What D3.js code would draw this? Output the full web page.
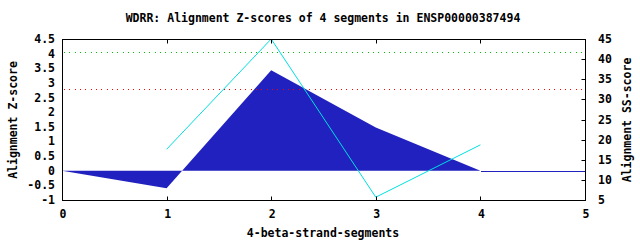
<!DOCTYPE html>
<html><head><meta charset="utf-8">
<script src="https://cdn.jsdelivr.net/npm/d3@7"></script>
<style>
body{margin:0;background:#fff;}
svg{display:block;}
text{font-family:"DejaVu Sans Mono",monospace;font-weight:bold;font-size:11.5px;fill:#000;}
</style></head><body>
<script>
const titleText = "WDRR: Alignment Z-scores of 4 segments in ENSP00000387494";
const xLabel = "4-beta-strand-segments";
const yLabelLeft = "Alignment Z-score";
const yLabelRight = "Alignment SS-score";
const segX = [0, 1, 2, 3, 4];
const zScores = [0, -0.6, 3.43, 1.48, 0];
const ssX = [1, 2, 3, 4];
const ssScores = [17.6, 45, 5.7, 18.7];
const xTicks = [0, 1, 2, 3, 4, 5];
const zTicks = [-1, -0.5, 0, 0.5, 1, 1.5, 2, 2.5, 3, 3.5, 4, 4.5];
const ssTicks = [5, 10, 15, 20, 25, 30, 35, 40, 45];
const greenThreshold = 4.04;  // Z
const redThreshold = 2.78;    // Z

const W = 640, H = 240;
const L = 62, R = 585, T = 39, B = 200;
const svg = d3.select("body").append("svg").attr("width", W).attr("height", H);
const x = d3.scaleLinear().domain([0, 5]).range([L, R]);
const yL = d3.scaleLinear().domain([-1, 4.5]).range([B, T]);
const yR = d3.scaleLinear().domain([5, 45]).range([B, T]);
const px = v => Math.round(v) + 0.5;

// area
const area = d3.area().x((d, i) => x(segX[i])).y0(yL(0)).y1(d => yL(d));
svg.append("path").datum(zScores).attr("d", area).attr("fill", "#2121bf").attr("stroke", "none");
// zero line beyond the last segment
svg.append("line").attr("x1", x(4) + 1).attr("x2", x(5)).attr("y1", px(yL(0))).attr("y2", px(yL(0)))
  .attr("stroke", "#2121bf").attr("stroke-width", 1).attr("shape-rendering", "crispEdges");

// threshold dotted lines
[[greenThreshold, "#00c000"], [redThreshold, "#ff0000"]].forEach(([v, c]) => {
  svg.append("line").attr("x1", L + 2).attr("x2", R).attr("y1", px(yL(v))).attr("y2", px(yL(v)))
    .attr("stroke", c).attr("stroke-width", 1).attr("stroke-dasharray", "1 4.33")
    .attr("shape-rendering", "crispEdges");
});

// SS line
const line = d3.line().x((d, i) => x(ssX[i])).y(d => yR(d));
svg.append("path").datum(ssScores).attr("d", line).attr("fill", "none")
  .attr("stroke", "#00e0e0").attr("stroke-width", 1);

// border
svg.append("rect").attr("x", L + 0.5).attr("y", T + 0.5).attr("width", R - L).attr("height", B - T)
  .attr("fill", "none").attr("stroke", "#000").attr("stroke-width", 1);

const g = svg.append("g");
xTicks.forEach(t => {
  const xx = px(x(t));
  g.append("line").attr("x1", xx).attr("x2", xx).attr("y1", B + 0.5).attr("y2", B - 3.5).attr("stroke", "#000");
  g.append("line").attr("x1", xx).attr("x2", xx).attr("y1", T + 0.5).attr("y2", T + 4.5).attr("stroke", "#000");
  g.append("text").attr("x", x(t) + 1).attr("y", 218).attr("text-anchor", "middle").text(d3.format("d")(t));
});
zTicks.forEach(t => {
  g.append("text").attr("x", 55).attr("y", yL(t)).attr("dy", "0.35em").attr("text-anchor", "end")
    .text(d3.format("")(t).replace("−", "-"));
});
ssTicks.forEach(t => {
  const yy = px(yR(t));
  g.append("line").attr("x1", R + 0.5).attr("x2", R - 3.5).attr("y1", yy).attr("y2", yy).attr("stroke", "#000");
  g.append("text").attr("x", 598).attr("y", yR(t)).attr("dy", "0.35em").attr("text-anchor", "start").text(t);
});

svg.append("text").attr("x", 323).attr("y", 22).attr("text-anchor", "middle").text(titleText);
svg.append("text").attr("x", 323).attr("y", 237).attr("text-anchor", "middle").text(xLabel);
svg.append("text").attr("transform", "translate(17,120) rotate(-90)").attr("text-anchor", "middle").text(yLabelLeft);
svg.append("text").attr("transform", "translate(631,120) rotate(-90)").attr("text-anchor", "middle").text(yLabelRight);
</script>
</body></html>
